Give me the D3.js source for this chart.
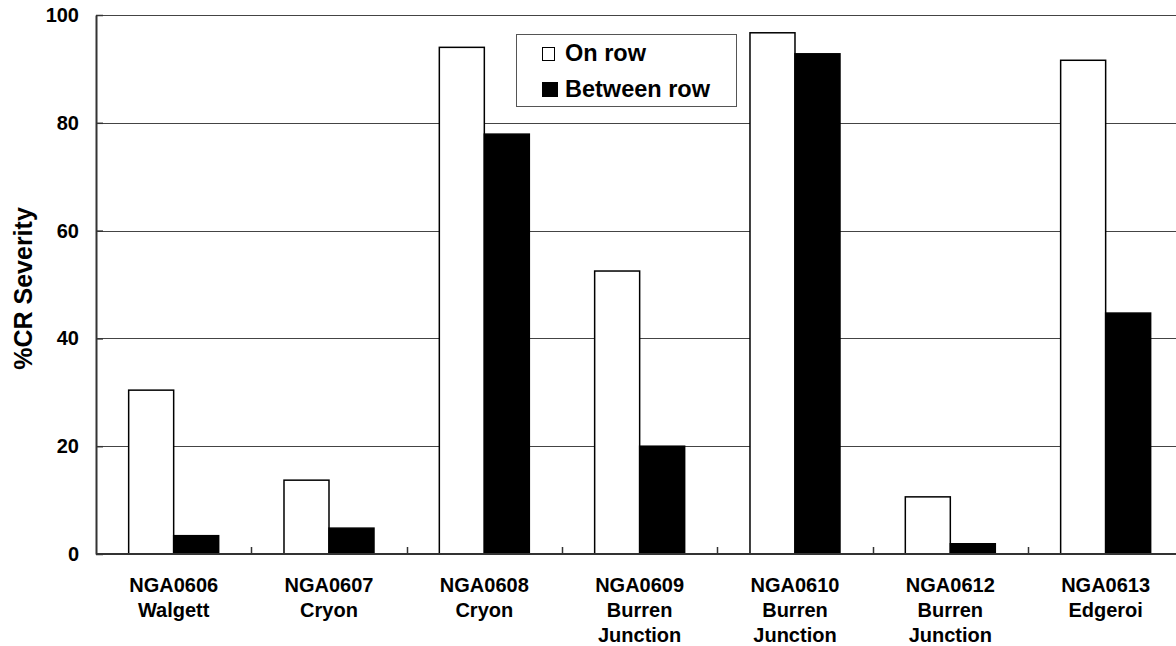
<!DOCTYPE html>
<html>
<head>
<meta charset="utf-8">
<script src="https://cdn.jsdelivr.net/npm/d3@7"></script>
<style>
  html, body { margin: 0; padding: 0; background: #fff; }
  svg { display: block; }
  text { font-family: "Liberation Sans", Arial, sans-serif; font-weight: bold; fill: #000; }
</style>
</head>
<body>
<svg id="chart" width="1176" height="646"></svg>
<script>
const categories = [
  ["NGA0606", "Walgett"],
  ["NGA0607", "Cryon"],
  ["NGA0608", "Cryon"],
  ["NGA0609", "Burren", "Junction"],
  ["NGA0610", "Burren", "Junction"],
  ["NGA0612", "Burren", "Junction"],
  ["NGA0613", "Edgeroi"]
];
const seriesNames = ["On row", "Between row"];
const onRow = [30.4, 13.7, 94.0, 52.5, 96.7, 10.6, 91.6];
const betweenRow = [3.4, 4.8, 77.9, 20.0, 92.8, 1.9, 44.7];
const yTicks = [0, 20, 40, 60, 80, 100];
const yTitle = "%CR Severity";

const svg = d3.select("#chart");
const mLeft = 96, mTop = 15, mBottom = 554;
const band = 155.33;
const mRight = mLeft + band * categories.length;

const x = d3.scaleBand().domain(d3.range(categories.length)).range([mLeft, mRight]).paddingInner(0).paddingOuter(0);
const xSub = d3.scaleBand().domain([0, 1]).range([0, 90]);
const groupOffset = (band - 90) / 2;
const y = d3.scaleLinear().domain([0, 100]).range([mBottom, mTop]);

// gridlines
svg.append("g").selectAll("line").data(yTicks.filter(d => d > 0)).join("line")
  .attr("x1", mLeft).attr("x2", 1176)
  .attr("y1", d => Math.round(y(d)) + 0.5).attr("y2", d => Math.round(y(d)) + 0.5)
  .attr("stroke", "#444").attr("stroke-width", 1);

// bars
const series = [onRow, betweenRow];
const fills = ["#fff", "#000"];
series.forEach((vals, si) => {
  svg.append("g").selectAll("rect").data(vals).join("rect")
    .attr("x", (d, i) => x(i) + groupOffset + xSub(si))
    .attr("y", d => y(d))
    .attr("width", xSub.bandwidth())
    .attr("height", d => y(0) - y(d))
    .attr("fill", fills[si])
    .attr("stroke", "#000").attr("stroke-width", 1.5);
});

// y axis
const yAxis = d3.axisLeft(y).tickValues(yTicks).tickSize(-7).tickPadding(17).tickSizeOuter(0);
const ya = svg.append("g").attr("transform", `translate(${mLeft},0)`).call(yAxis);
ya.select(".domain").attr("stroke", "#333").attr("stroke-width", 2);
ya.selectAll(".tick line").attr("stroke", "#333").attr("stroke-width", 1.5);
ya.selectAll(".tick text").style("font-size", "20px").style("font-family", "Liberation Sans, Arial, sans-serif").style("font-weight", "bold").attr("fill", "#000");

// x axis baseline
svg.append("line").attr("x1", mLeft).attr("x2", 1176).attr("y1", mBottom).attr("y2", mBottom)
  .attr("stroke", "#333").attr("stroke-width", 2);
// inside ticks at category boundaries
svg.append("g").selectAll("line").data(d3.range(1, categories.length)).join("line")
  .attr("x1", d => Math.round(x(d)) + 0.5).attr("x2", d => Math.round(x(d)) + 0.5)
  .attr("y1", mBottom).attr("y2", mBottom - 7)
  .attr("stroke", "#333").attr("stroke-width", 1.5);

// category labels
const cat = svg.append("g").selectAll("text").data(categories).join("text")
  .attr("text-anchor", "middle")
  .style("font-size", "20px");
cat.each(function(lines, i) {
  d3.select(this).selectAll("tspan").data(lines).join("tspan")
    .attr("x", x(i) + band / 2)
    .attr("y", (d, j) => 592 + j * 25)
    .text(d => d);
});

// y title
svg.append("text")
  .attr("transform", `translate(32,${(mTop + mBottom) / 2 + 4}) rotate(-90)`)
  .attr("text-anchor", "middle")
  .style("font-size", "25px")
  .text(yTitle);

// legend
const lg = svg.append("g");
lg.append("rect").attr("x", 516.5).attr("y", 34.5).attr("width", 220).attr("height", 72)
  .attr("fill", "#fff").attr("stroke", "#555").attr("stroke-width", 1);
lg.append("rect").attr("x", 542.5).attr("y", 47.5).attr("width", 12).attr("height", 13)
  .attr("fill", fills[0]).attr("stroke", "#000").attr("stroke-width", 1);
lg.append("rect").attr("x", 542).attr("y", 82).attr("width", 16).attr("height", 15)
  .attr("fill", fills[1]);
seriesNames.forEach((name, i) => {
  lg.append("text").attr("x", 565).attr("y", 61 + i * 36).style("font-size", "23.5px").text(name);
});
</script>
</body>
</html>
